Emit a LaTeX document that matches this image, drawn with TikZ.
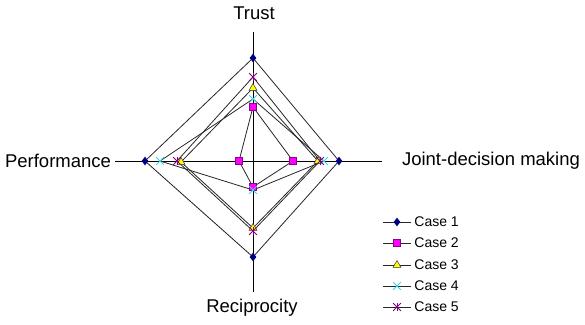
\documentclass[tikz,border=0pt]{standalone}
\usepackage{fontspec}
\setmainfont{Liberation Sans}
\usetikzlibrary{shapes.geometric, shapes.misc}
\definecolor{caseone}{RGB}{0,0,128}
\definecolor{casetwo}{RGB}{255,0,255}
\definecolor{casetwoedge}{RGB}{140,0,140}
\definecolor{casethree}{RGB}{255,255,0}
\definecolor{casefour}{RGB}{60,215,230}
\definecolor{casefive}{RGB}{128,0,128}

\begin{document}
\begin{tikzpicture}[x=1pt, y=-1pt, line width=0.8pt]
	\tikzstyle{axis} = [line width=1pt, black]
	\tikzstyle{series} = [line width=0.8pt, black!85]
	\tikzstyle{axlabel} = [font=\fontsize{18.5}{20}\selectfont, inner sep=0pt]
	\tikzstyle{leglabel} = [font=\fontsize{14}{16}\selectfont, inner sep=0pt, anchor=west]
	\tikzstyle{mkone} = [diamond, fill=caseone, inner sep=0pt, minimum width=7pt, minimum height=9pt]
	\tikzstyle{mktwo} = [rectangle, fill=casetwo, draw=casetwoedge, line width=0.5pt, inner sep=0pt, minimum size=7pt]
	\tikzstyle{mkthree} = [regular polygon, regular polygon sides=3, fill=casethree, draw=black!80, line width=0.5pt, inner sep=0pt, minimum size=9pt]
	\tikzstyle{mkfour} = [cross out, draw=casefour, line width=0.8pt, inner sep=0pt, minimum size=7pt]
	\tikzstyle{mkfive} = [cross out, draw=casefive, line width=0.8pt, inner sep=0pt, minimum size=7pt,
		append after command={(\tikzlastnode.north) edge[casefive, line width=0.8pt] (\tikzlastnode.south)}]
	\useasboundingbox (0,0) rectangle (585,324);
	% axes
	\coordinate (axT) at (253,32);
	\coordinate (axB) at (253,292);
	\coordinate (axL) at (115,161);
	\coordinate (axR) at (382,161);
	\draw [axis] (axT) -- (axB);
	\draw [axis] (axL) -- (axR);
	\node [axlabel] (trust) at (254,13) {Trust};
	\node [axlabel] (joint) at (491,161) {Joint-decision making};
	\node [axlabel] (recip) at (252,308) {Reciprocity};
	\node [axlabel] (perf) at (58,161) {Performance};
	% data points
	\coordinate (t1) at (253,58);  \coordinate (j1) at (339,161); \coordinate (r1) at (253,257); \coordinate (p1) at (145,161);
	\coordinate (t2) at (253,107); \coordinate (j2) at (293,161); \coordinate (r2) at (253,187); \coordinate (p2) at (239,161);
	\coordinate (t3) at (253,88);  \coordinate (j3) at (318,161); \coordinate (r3) at (253,228); \coordinate (p3) at (181,162);
	\coordinate (t4) at (253,99);  \coordinate (j4) at (324,161); \coordinate (r4) at (253,190); \coordinate (p4) at (160,161);
	\coordinate (t5) at (253,77);  \coordinate (j5) at (320,161); \coordinate (r5) at (253,231); \coordinate (p5) at (177,161);
	\foreach \k in {1,...,5}
		\draw [series] (t\k) -- (j\k) -- (r\k) -- (p\k) -- cycle;
	\foreach \k/\m in {1/mkone, 2/mktwo, 3/mkthree, 4/mkfour, 5/mkfive}
		\foreach \a in {t,j,r,p}
			\node [\m] (m-\a\k) at (\a\k) {};
	% legend
	\foreach \k/\m/\y in {1/mkone/222, 2/mktwo/243, 3/mkthree/265, 4/mkfour/286, 5/mkfive/307} {
		\coordinate (la\k) at (383,\y);
		\coordinate (lb\k) at (411,\y);
		\draw [series] (la\k) -- (lb\k);
		\node [\m] (lm\k) at (397,\y) {};
		\node [leglabel] (lt\k) at (414,\y) {Case \k};
	}
\end{tikzpicture}
\end{document}
